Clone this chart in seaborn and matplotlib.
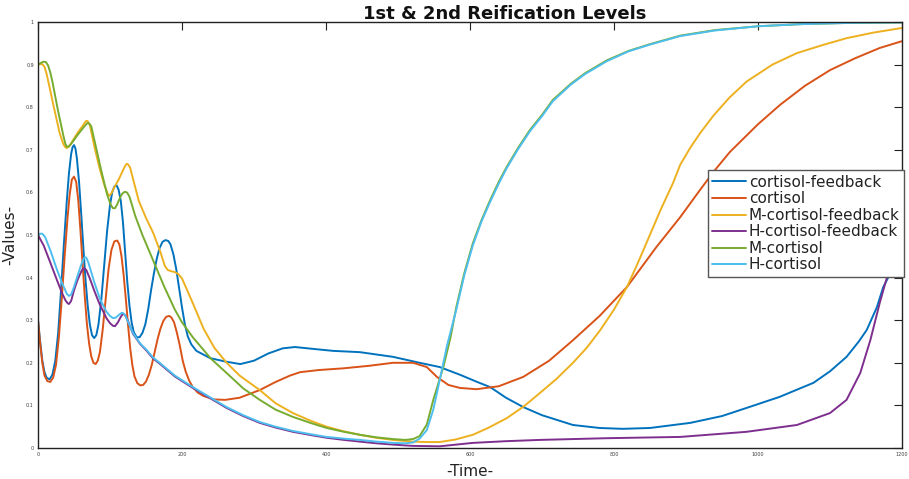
import matplotlib
matplotlib.use("Agg")
import matplotlib.pyplot as plt
import seaborn as sns
import pandas as pd

series_names = ["cortisol-feedback", "cortisol", "M-cortisol-feedback",
                "H-cortisol-feedback", "M-cortisol", "H-cortisol"]
colors = ["#0072BD", "#D95319", "#EDB120", "#7E2F8E", "#77AC30", "#4DBEEE"]

cf_x = [0, 3, 6, 9, 12, 16, 20, 24, 28, 32, 36, 40, 43, 46, 48, 50, 52, 54, 57, 60, 63, 66, 69, 72, 75, 78, 81, 84,
        88, 92, 96, 100, 103, 106, 109, 112, 115, 118, 121, 124, 127, 130, 133, 137, 141, 145, 149, 153, 157, 161, 165,
        169, 173, 177, 181, 184, 188, 192, 196, 200, 204, 208, 213, 220, 239, 260, 281, 300, 320, 340, 357, 380, 410,
        447, 493, 530, 558, 586, 610, 628, 650, 674, 700, 743, 780, 812, 850, 906, 950, 984, 1030, 1077, 1100, 1123,
        1140, 1151, 1165, 1174, 1190, 1200]
cf_y = [0.30, 0.25, 0.205, 0.178, 0.165, 0.161, 0.172, 0.205, 0.27, 0.37, 0.48, 0.58, 0.645, 0.69, 0.706, 0.711,
        0.703, 0.68, 0.625, 0.55, 0.47, 0.395, 0.335, 0.29, 0.265, 0.258, 0.265, 0.29, 0.35, 0.43, 0.51, 0.57, 0.60,
        0.614, 0.617, 0.606, 0.58, 0.53, 0.46, 0.39, 0.335, 0.295, 0.272, 0.26, 0.26, 0.27, 0.29, 0.325, 0.37, 0.41,
        0.445, 0.47, 0.484, 0.488, 0.486, 0.478, 0.455, 0.42, 0.375, 0.33, 0.29, 0.262, 0.243, 0.228, 0.211, 0.203,
        0.197, 0.205, 0.222, 0.234, 0.237, 0.233, 0.228, 0.225, 0.214, 0.20, 0.19, 0.172, 0.155, 0.143, 0.118, 0.096,
        0.077, 0.054, 0.047, 0.045, 0.047, 0.059, 0.075, 0.094, 0.12, 0.153, 0.18, 0.214, 0.25, 0.277, 0.33, 0.378,
        0.43, 0.48]

c_x = [0, 3, 6, 9, 13, 17, 21, 25, 29, 33, 37, 41, 44, 47, 50, 53, 56, 59, 62, 65, 68, 71, 74, 77, 80, 83, 86, 90, 94,
       98, 102, 106, 110, 113, 116, 119, 122, 125, 128, 131, 134, 138, 142, 146, 150, 154, 158, 162, 166, 170, 174, 178,
       182, 185, 189, 193, 197, 201, 205, 210, 215, 222, 230, 245, 260, 280, 308, 330, 350, 364, 390, 424, 460, 493,
       521, 540, 554, 570, 586, 609, 640, 674, 710, 743, 780, 818, 859, 892, 920, 940, 961, 1000, 1031, 1065, 1100,
       1135, 1169, 1200]
c_y = [0.30, 0.245, 0.20, 0.17, 0.157, 0.155, 0.165, 0.195, 0.26, 0.35, 0.45, 0.54, 0.595, 0.63, 0.637, 0.625, 0.58,
       0.51, 0.43, 0.355, 0.29, 0.245, 0.215, 0.20, 0.197, 0.205, 0.225, 0.28, 0.35, 0.42, 0.465, 0.485, 0.487, 0.478,
       0.45, 0.405, 0.35, 0.29, 0.235, 0.195, 0.168, 0.152, 0.147, 0.148, 0.156, 0.172, 0.195, 0.225, 0.255, 0.28,
       0.298, 0.308, 0.31, 0.307, 0.295, 0.27, 0.24, 0.205, 0.18, 0.158, 0.143, 0.13, 0.122, 0.114, 0.113, 0.118,
       0.136, 0.155, 0.17, 0.178, 0.183, 0.187, 0.193, 0.20, 0.20, 0.19, 0.167, 0.148, 0.141, 0.138, 0.145, 0.167,
       0.205, 0.253, 0.31, 0.378, 0.472, 0.542, 0.607, 0.652, 0.695, 0.76, 0.806, 0.85, 0.887, 0.915, 0.939, 0.955]

mcf_x = [0, 3, 6, 9, 12, 15, 22, 30, 35, 38, 40, 43, 47, 55, 62, 65, 67, 69, 72, 78, 85, 92, 97, 99, 102, 106, 112,
         118, 121, 123, 125, 128, 133, 140, 150, 160, 170, 176, 180, 185, 190, 195, 200, 206, 215, 230, 245, 262, 280,
         308, 330, 354, 380, 401, 425, 447, 470, 493, 520, 540, 558, 580, 604, 625, 651, 675, 697, 720, 743, 762, 781,
         800, 818, 832, 845, 865, 882, 892, 906, 920, 938, 960, 984, 1020, 1054, 1090, 1123, 1160, 1200]
mcf_y = [0.90, 0.901, 0.901, 0.895, 0.878, 0.855, 0.80, 0.74, 0.714, 0.706, 0.704, 0.708, 0.718, 0.74, 0.756, 0.764,
         0.768, 0.767, 0.758, 0.71, 0.66, 0.618, 0.596, 0.592, 0.598, 0.612, 0.63, 0.652, 0.662, 0.667, 0.666, 0.658,
         0.625, 0.58, 0.54, 0.505, 0.46, 0.428, 0.418, 0.415, 0.413, 0.408, 0.398, 0.375, 0.34, 0.28, 0.235, 0.20,
         0.17, 0.136, 0.105, 0.082, 0.063, 0.05, 0.039, 0.031, 0.024, 0.019, 0.015, 0.014, 0.014, 0.02, 0.031, 0.047,
         0.07, 0.098, 0.129, 0.162, 0.20, 0.235, 0.277, 0.325, 0.378, 0.43, 0.481, 0.56, 0.622, 0.665, 0.705, 0.74,
         0.78, 0.822, 0.86, 0.90, 0.927, 0.946, 0.962, 0.975, 0.986]

hcf_x = [0, 8, 16, 25, 33, 38, 41, 43, 46, 50, 55, 60, 62, 64, 67, 72, 78, 85, 95, 100, 104, 107, 111, 115, 118, 121,
         125, 132, 142, 151, 160, 169, 190, 215, 240, 262, 285, 308, 330, 354, 380, 401, 425, 447, 470, 493, 520, 558,
         604, 650, 697, 790, 892, 984, 1054, 1100, 1123, 1142, 1156, 1169, 1179, 1190, 1200]
hcf_y = [0.50, 0.475, 0.44, 0.40, 0.365, 0.347, 0.34, 0.338, 0.345, 0.37, 0.395, 0.414, 0.42, 0.422, 0.418, 0.398,
         0.37, 0.34, 0.305, 0.293, 0.287, 0.286, 0.295, 0.308, 0.315, 0.312, 0.298, 0.268, 0.244, 0.228, 0.21, 0.198,
         0.168, 0.141, 0.116, 0.094, 0.075, 0.059, 0.048, 0.038, 0.03, 0.024, 0.019, 0.015, 0.011, 0.008, 0.005,
         0.004, 0.012, 0.016, 0.019, 0.023, 0.026, 0.038, 0.054, 0.082, 0.113, 0.176, 0.253, 0.34, 0.40, 0.48, 0.54]

mc_x = [0, 4, 8, 11, 14, 17, 20, 28, 35, 38, 40, 43, 47, 55, 63, 67, 69, 71, 74, 80, 88, 96, 101, 104, 107, 110, 114,
        117, 120, 122, 124, 127, 131, 135, 145, 160, 175, 190, 200, 215, 240, 262, 285, 308, 330, 354, 380, 401, 425,
        447, 470, 493, 510, 521, 530, 540, 549, 563, 573, 581, 592, 604, 616, 628, 640, 651, 667, 683, 700, 715, 740,
        760, 790, 820, 850, 892, 940, 1000, 1060, 1130, 1200]
mc_y = [0.90, 0.904, 0.907, 0.906, 0.898, 0.882, 0.86, 0.79, 0.735, 0.714, 0.707, 0.708, 0.716, 0.735, 0.752, 0.76,
        0.763, 0.762, 0.755, 0.71, 0.65, 0.595, 0.571, 0.563, 0.563, 0.572, 0.588, 0.597, 0.601, 0.601, 0.599, 0.59,
        0.568, 0.545, 0.50, 0.44, 0.38, 0.325, 0.295, 0.26, 0.21, 0.176, 0.14, 0.113, 0.09, 0.073, 0.058, 0.047,
        0.038, 0.031, 0.025, 0.021, 0.019, 0.021, 0.028, 0.055, 0.113, 0.19, 0.26, 0.331, 0.41, 0.481, 0.535, 0.582,
        0.625, 0.66, 0.705, 0.746, 0.782, 0.817, 0.855, 0.88, 0.91, 0.932, 0.948, 0.968, 0.981, 0.99, 0.995, 0.998,
        0.999]

hc_x = [0, 3, 6, 10, 18, 26, 34, 40, 43, 46, 50, 55, 60, 63, 65, 67, 70, 78, 86, 95, 100, 104, 108, 112, 116, 118,
        121, 124, 132, 142, 151, 160, 169, 190, 215, 240, 262, 285, 308, 330, 354, 380, 401, 425, 447, 470, 493, 510,
        521, 530, 540, 549, 558, 568, 581, 592, 604, 616, 628, 640, 651, 667, 683, 700, 715, 740, 760, 790, 820, 850,
        892, 940, 1000, 1060, 1130, 1200]
hc_y = [0.50, 0.503, 0.503, 0.495, 0.46, 0.42, 0.385, 0.362, 0.357, 0.36, 0.378, 0.405, 0.43, 0.443, 0.448, 0.447,
        0.435, 0.39, 0.35, 0.32, 0.31, 0.305, 0.306, 0.312, 0.317, 0.317, 0.312, 0.30, 0.27, 0.245, 0.23, 0.212, 0.20,
        0.17, 0.143, 0.118, 0.096, 0.077, 0.061, 0.05, 0.04, 0.032, 0.026, 0.022, 0.019, 0.015, 0.012, 0.011, 0.013,
        0.022, 0.042, 0.09, 0.16, 0.24, 0.325, 0.405, 0.476, 0.532, 0.578, 0.621, 0.657, 0.702, 0.743, 0.779, 0.814,
        0.853, 0.878, 0.908, 0.931, 0.947, 0.967, 0.98, 0.99, 0.995, 0.998, 0.999]

x_ticks = [0, 200, 400, 600, 800, 1000, 1200]
y_ticks = [0, 0.1, 0.2, 0.3, 0.4, 0.5, 0.6, 0.7, 0.8, 0.9, 1]
y_tick_labels = ["0", "0.1", "0.2", "0.3", "0.4", "0.5", "0.6", "0.7", "0.8", "0.9", "1"]

all_x = [cf_x, c_x, mcf_x, hcf_x, mc_x, hc_x]
all_y = [cf_y, c_y, mcf_y, hcf_y, mc_y, hc_y]
frames = []
for name, xs, ys in zip(series_names, all_x, all_y):
    frames.append(pd.DataFrame({"Time": xs, "Value": ys, "series": name}))
df = pd.concat(frames, ignore_index=True)

sns.set_style("white")
plt.rcParams["font.family"] = ["DejaVu Sans"]

fig = plt.figure(figsize=(9.09, 4.79), dpi=100)
ax = fig.add_axes([38 / 909, 31 / 479, 864 / 909, 426 / 479])

sns.lineplot(data=df, x="Time", y="Value", hue="series", hue_order=series_names,
             palette=dict(zip(series_names, colors)), sort=False, estimator=None,
             linewidth=1.4, ax=ax)

ax.set_xlim(0, 1200)
ax.set_ylim(0, 1)
ax.set_xticks(x_ticks)
ax.set_xticklabels([str(t) for t in x_ticks])
ax.set_yticks(y_ticks)
ax.set_yticklabels(y_tick_labels)
ax.tick_params(axis="both", which="both", direction="in", length=6, width=0.8,
               top=True, right=True, labelsize=3.5, labelcolor="#404040", pad=3, color="#222222")
for sp in ax.spines.values():
    sp.set_visible(True)
    sp.set_color("#222222")
    sp.set_linewidth(1.0)

ax.set_title("1st & 2nd Reification Levels", fontsize=13, fontweight="bold", x=0.54, pad=2,
             color="#111111")
ax.set_xlabel("-Time-", fontsize=11, labelpad=5, color="#222222")
ax.set_ylabel("-Values-", fontsize=11, labelpad=6, color="#222222")

leg = ax.legend(loc="upper left", bbox_to_anchor=(0.775, 0.652), fontsize=11, frameon=True,
                fancybox=False, edgecolor="#555555", framealpha=1, borderpad=0.3,
                handlelength=2.2, handletextpad=0.2, labelspacing=0.1, borderaxespad=0)
leg.get_frame().set_linewidth(1.0)
for t in leg.get_texts():
    t.set_color("#222222")

fig.savefig("out.png", dpi=100)
